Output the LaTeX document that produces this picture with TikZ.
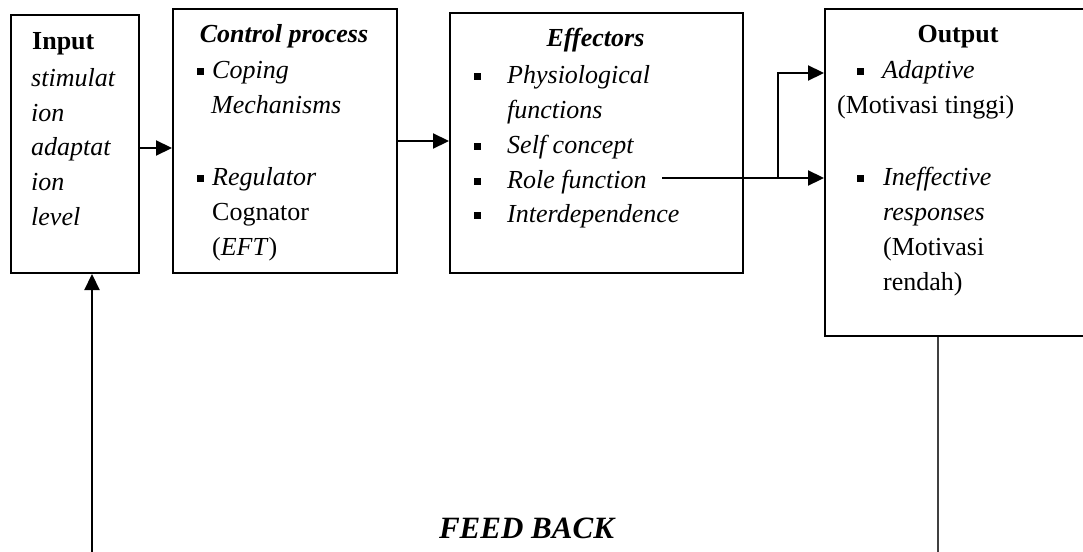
\documentclass[tikz,border=0pt]{standalone}
\usepackage{fontspec}
\setmainfont{Liberation Serif}
\usetikzlibrary{arrows.meta}
\tikzset{
  box/.style={draw, line width=2pt, inner sep=0pt, anchor=north west},
  txt/.style={anchor=base west, inner sep=0pt, font=\fontsize{26}{31}\selectfont},
  ttl/.style={anchor=base, inner sep=0pt, font=\fontsize{26}{31}\selectfont\bfseries},
  bul/.style={fill=black, draw=none, minimum size=7pt, inner sep=0pt},
  arr/.style={line width=2.2pt, -{Triangle[length=16pt,width=15pt]}},
  plain/.style={line width=1.4pt, draw=black!75}
}
\begin{document}
\begin{tikzpicture}[x=1pt,y=-1pt]
\useasboundingbox (0,0) rectangle (1083,551);
\clip (0,0) rectangle (1083,551);
% boxes
\node[box, minimum width=128pt, minimum height=258pt] (in) at (10,14) {};
\node[box, minimum width=224pt, minimum height=264pt] (ctl) at (172,8) {};
\node[box, minimum width=293pt, minimum height=260pt] (eff) at (449,12) {};
\node[box, minimum width=271pt, minimum height=327pt] (out) at (824,8) {};
% input text
\node[txt, font=\fontsize{26}{31}\selectfont\bfseries] (t1) at (32,50) {Input};
\node[txt] (t2) at (31,86) {\itshape stimulat};
\node[txt] (t3) at (31,121) {\itshape ion};
\node[txt] (t4) at (31,155) {\itshape adaptat};
\node[txt] (t5) at (31,190) {\itshape ion};
\node[txt] (t6) at (31,225) {\itshape level};
% control text
\node[ttl] (c0) at (284,43) {\itshape Control process};
\node[bul] (cb1) at (200,71) {};
\node[txt] (c1) at (212,78) {\itshape Coping};
\node[txt] (c2) at (211,113) {\itshape Mechanisms};
\node[bul] (cb2) at (200,178) {};
\node[txt] (c3) at (212,185) {\itshape Regulator};
\node[txt] (c4) at (212,220) {Cognator};
\node[txt] (c5) at (212,255) {(\textit{EFT})};
% effectors text
\node[ttl] (e0) at (595.5,47) {\itshape Effectors};
\node[bul] (eb1) at (477,76) {};
\node[txt] (e1) at (507,83) {\itshape Physiological};
\node[txt] (e2) at (507,118) {\itshape functions};
\node[bul] (eb2) at (477,146) {};
\node[txt] (e3) at (507,153) {\itshape Self concept};
\node[bul] (eb3) at (477,181) {};
\node[txt] (e4) at (507,188) {\itshape Role function};
\node[bul] (eb4) at (477,215) {};
\node[txt] (e5) at (507,222) {\itshape Interdependence};
% output text
\node[ttl] (o0) at (958,43) {Output};
\node[bul] (ob1) at (860,71) {};
\node[txt] (o1) at (882,78) {\itshape Adaptive};
\node[txt] (o2) at (837,113) {(Motivasi tinggi)};
\node[bul] (ob2) at (860,178) {};
\node[txt] (o3) at (883,185) {\itshape Ineffective};
\node[txt] (o4) at (883,220) {\itshape responses};
\node[txt] (o5) at (883,255) {(Motivasi};
\node[txt] (o6) at (883,290) {rendah)};
% feedback label
\node[anchor=base, inner sep=0pt, font=\fontsize{31}{36}\selectfont\bfseries\itshape] (fbl) at (526.5,538) {FEED BACK};
% connectors
\draw[arr] ([yshift=-4pt]in.east) -- ([yshift=-4pt]in.east -| ctl.west);
\draw[arr] (ctl.east) -- (ctl.east -| eff.west);
\coordinate (rs) at (662,178);
\coordinate (br) at (778,178);
\coordinate (ya) at (0,73);
\draw[arr] (rs) -- (rs -| out.west);
\draw[arr] (br) -- (br |- ya) -- (out.west |- ya);
\coordinate (fb) at (92,556);
\draw[arr] (fb) -- (fb |- in.south);
\coordinate (fr) at (938,556);
\draw[plain] (fr |- out.south) -- (fr);
\end{tikzpicture}
\end{document}
